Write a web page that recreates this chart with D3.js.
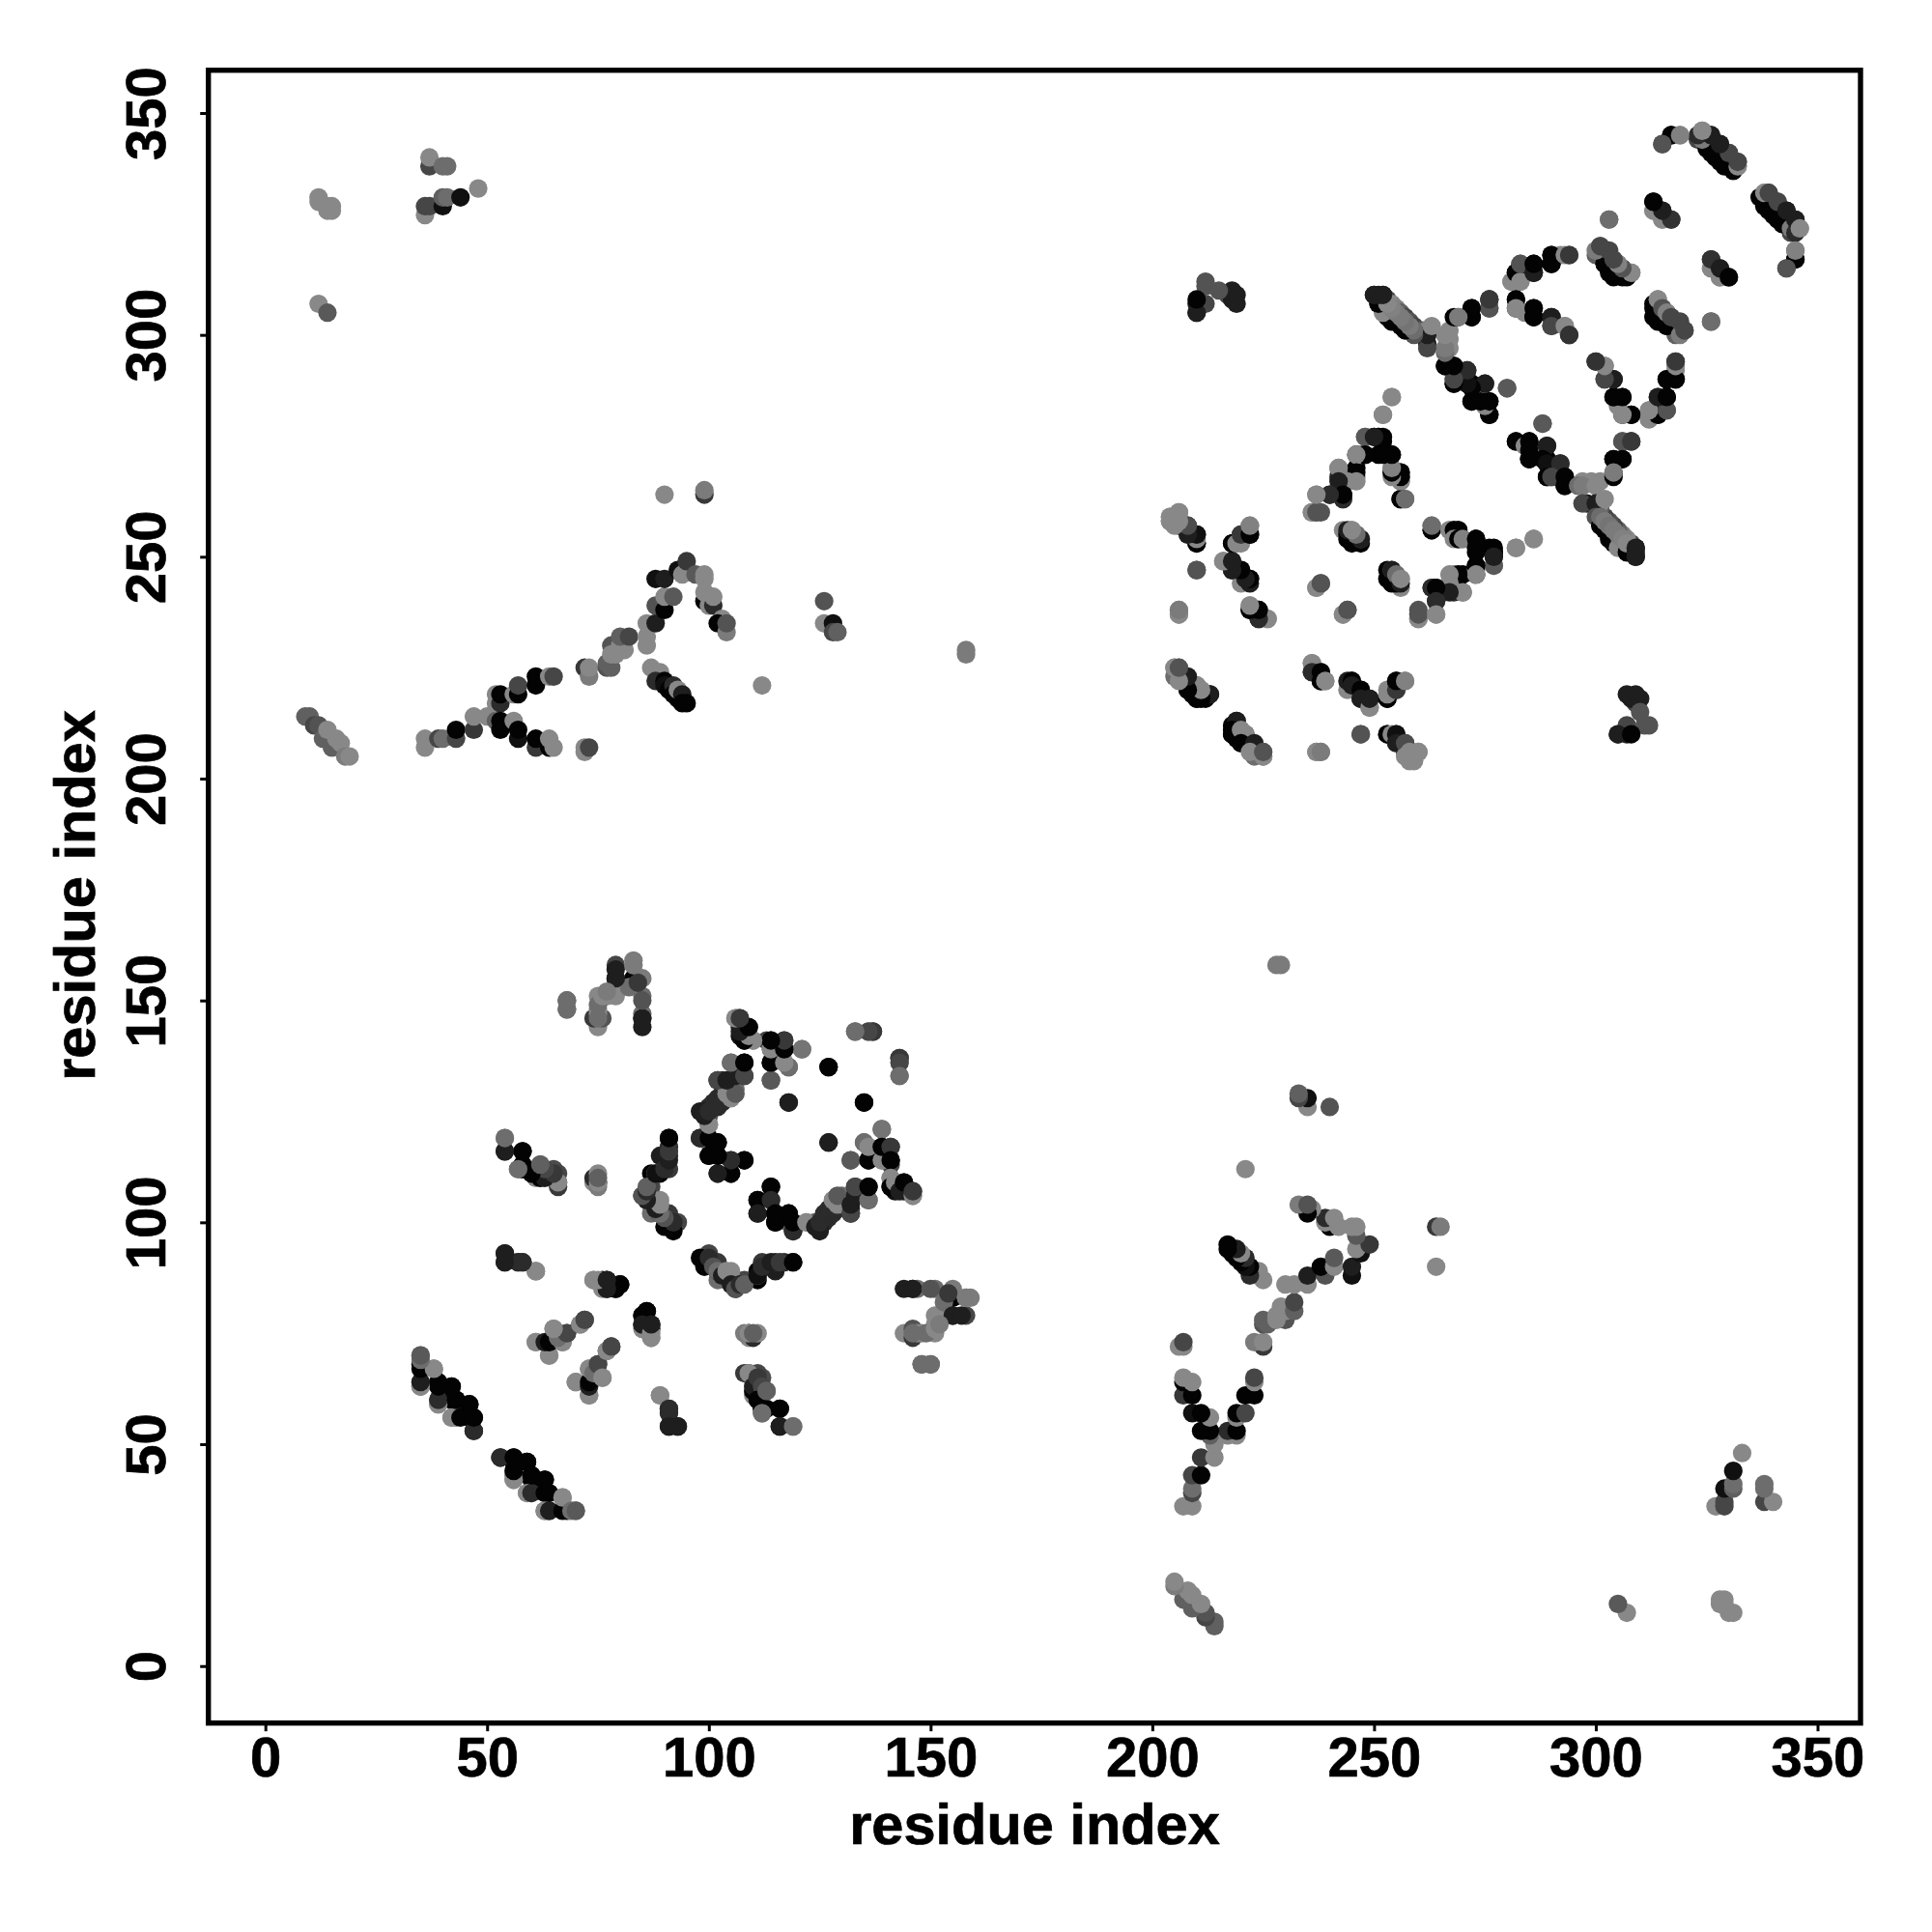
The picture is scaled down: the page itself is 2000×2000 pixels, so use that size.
<!DOCTYPE html>
<html><head><meta charset="utf-8">
<script src="https://cdn.jsdelivr.net/npm/d3@7"></script>
<style>html,body{margin:0;background:#fff}svg{display:block}text{font-family:"Liberation Sans",Arial,sans-serif;font-weight:bold;fill:#000;stroke:#000;stroke-width:.7px}</style>
</head><body><svg id="c" width="2000" height="2000"></svg>
<script>
// Each contact: [residue i, residue j, strength 0..1]; the map is symmetric, so each is drawn at (i,j) and (j,i).
const clusterNTermA=[[9,214,.3],[10,214,.3],[11,212,.5],[12,212,.4],[13,209,.3],[14,211,0],[15,207,.3],[16,209,0],[17,208,0],[18,205,.1],[19,205,0]];
const clusterFarCorner=[[12,331,0],[12,330,0],[14,329,0],[15,329,0],[14,328,0],[15,328,0],[12,307,0],[14,305,.35],[37,338,.5],[37,340,0],[40,338,.2],[41,338,.2],[36,327,0],[36,329,.5],[37,329,.5],[40,329,.9],[40,331,.3],[41,331,.2],[44,331,.9],[48,333,0]];
const clusterBranch=[[36,209,0],[36,207,0],[39,209,.5],[40,209,.2],[43,209,.5],[43,211,1],[47,211,.6],[47,214,0],[50,214,0],[52,213,.3],[52,219,0],[52,217,0],[53,217,.7],[53,219,1],[56,219,0],[57,219,1],[57,221,.5],[61,221,1],[61,223,1],[64,223,0],[65,223,.5],[53,213,1],[53,211,1],[56,213,0],[57,209,.9],[57,211,1],[61,207,.6],[61,209,1],[64,207,1],[64,209,0],[65,207,0],[72,206,0],[72,207,0],[73,207,.5],[72,225,.6],[73,223,.1],[73,225,0],[77,225,.4],[78,225,.3],[77,226,.3],[78,230,.4],[78,228,0],[79,228,0],[80,230,0],[81,229,0],[80,232,.3],[82,232,.5],[86,230,0],[86,232,0],[86,235,0],[88,235,.8],[88,239,.4],[90,238,1],[90,241,0],[92,241,.35],[88,245,.9],[90,245,.8],[93,247,.9],[94,246,0],[95,249,.6],[97,246,.35],[99,246,0],[99,245,0],[90,264,0],[99,264,.6],[99,265,.1],[99,240,1],[99,242,0],[100,239,0],[101,239,.7],[101,241,0],[103,236,0],[102,235,1],[104,233,.1],[104,235,.4],[126,240,.4],[126,235,0],[128,235,.9],[128,233,.5],[129,233,.3],[158,229,.1],[158,228,.1],[112,221,0]];
const clusterDescent=[[87,225,0],[88,224,0],[89,224,0],[88,222,.7],[90,222,1],[90,221,.9],[91,220,1],[92,221,.7],[92,219,1],[93,218,1],[93,220,0],[94,219,.8],[94,217,1],[95,217,1]];
const clusterNearDiagonal=[[35,70,.2],[35,68,1],[38,67,0],[35,63,.2],[35,64,.8],[39,59,0],[39,60,.6],[39,64,1],[42,63,1],[42,60,1],[43,60,1],[42,56,0],[43,56,.1],[46,59,1],[46,56,1],[47,56,1],[47,53,.8],[53,47,.7],[56,42,0],[56,44,1],[56,47,1],[59,46,1],[59,39,0],[60,39,.7],[60,43,1],[63,42,1],[63,39,1],[63,35,0],[64,35,.8],[67,35,1],[67,38,0],[69,35,.2],[70,35,.35]];
const clusterLoopLeft=[[54,93,.8],[54,91,.8],[57,91,.6],[58,91,.6],[61,89,.15],[54,119,0],[54,116,.7],[57,112,.2],[58,116,1],[58,113,1],[58,112,1],[62,113,.4],[61,110,0],[62,110,1],[65,112,.45],[66,111,.5],[66,109,.5],[74,109,0],[74,110,.7],[75,109,1],[75,111,0],[68,150,.5],[68,148,.4],[75,144,0],[74,146,.6],[76,146,.4],[75,148,0],[75,151,0],[77,151,0],[79,151,0],[79,155,1],[79,158,.5],[83,155,1],[83,159,.1],[83,158,0],[85,155,.1],[85,151,.2],[85,146,1],[85,147,.2],[61,73,0],[64,70,0],[64,73,1],[65,76,0],[66,75,.3],[67,73,0],[68,75,.5],[71,77,.35],[72,78,.45],[70,64,0],[73,61,0],[73,63,.8],[73,64,1],[73,67,0],[74,66,.2],[75,68,.5],[76,65,0],[77,71,0],[78,72,.5],[74,87,0],[76,85,0],[76,87,.8],[77,87,1],[77,85,.8],[79,85,.8],[78,86,0],[80,86,1],[85,79,1],[86,80,1],[85,77,.8],[87,74,0],[87,75,0],[87,77,.8],[89,61,0],[91,58,.7],[91,57,.7],[91,54,.8],[93,54,.8]];
const clusterBarrel=[[91,119,1],[89,115,.8],[91,117,.7],[91,115,.7],[87,111,1],[88,111,0],[89,111,1],[91,112,.6],[87,108,.5],[85,106,.7],[87,104,.9],[89,105,0],[87,102,.2],[89,102,1],[90,102,.3],[90,99,1],[91,101,.3],[93,100,.5],[92,98,1],[98,125,.8],[99,125,.8],[100,126,.7],[101,127,.7],[102,128,.7],[103,129,.7],[102,132,.8],[103,132,.7],[104,130,.3],[105,128,0],[105,131,.4],[106,130,.2],[106,132,.2],[105,136,.2],[108,136,1],[108,133,.8],[100,122,0],[100,124,.4],[98,119,.8],[100,118,.3],[102,118,1],[100,115,1],[102,115,1],[105,114,.7],[108,114,1],[102,111,.7],[105,111,1],[106,146,0],[107,146,.6],[107,144,.7],[107,142,.9],[108,141,.9],[108,144,0],[109,144,1],[110,141,0],[113,141,.5],[114,141,1],[114,139,0],[117,139,1],[117,141,.6],[121,139,.2],[114,136,1],[114,132,.4],[117,136,0],[118,135,.4],[127,135,1],[118,127,.8],[135,127,1],[127,118,.8],[133,143,.2],[136,143,0],[137,143,.6],[143,137,.6],[143,136,.5],[143,133,.2]];
const clusterBarrelLower=[[114,108,1],[111,105,1],[114,105,.7],[111,102,.8],[115,102,1],[115,100,1],[118,102,1],[119,98,.7],[119,100,1],[122,100,0],[124,99,.8],[125,99,.8],[125,100,.7],[126,102,.7],[127,103,.7],[128,105,0],[129,104,0],[129,106,.35],[132,102,.5],[132,104,.8],[133,106,.8],[133,108,.5],[136,105,.2],[136,108,1],[132,114,.35],[136,114,1],[135,118,.2],[136,117,0],[139,121,.15],[139,114,0],[139,117,1],[141,117,.6],[141,114,1],[141,110,0],[141,108,1],[142,109,0],[143,107,.8],[144,109,1],[146,106,0],[146,107,.6]];
const clusterSmallLoop=[[144,85,.8],[146,85,.8],[147,75,0],[150,85,.4],[149,75,.2],[152,79,0],[153,82,.2],[154,84,.6],[155,79,.8],[157,79,.8],[158,83,.1],[148,68,.2],[150,68,.2],[146,75,.2],[151,76,0],[152,77,.1],[102,91,.6],[100,92,.7],[101,90,.4],[102,89,.2],[103,88,.8],[104,89,0],[105,86,.8],[106,85,.4],[107,86,.7],[108,86,.3],[111,88,.9],[112,90,.7],[114,91,.8],[116,91,.6],[119,91,1],[108,75,.1],[109,75,0],[110,75,.3],[108,66,.6],[109,66,0],[110,63,.8],[111,65,.6],[112,63,.5],[111,60,1],[112,58,1],[113,62,.3],[116,58,1],[116,54,.8],[119,54,.2],[112,57,.2]];
const clusterCentre=[[204,259,0],[204,258,0],[206,260,0],[206,257,.8],[208,255,0],[208,257,.5],[210,253,1],[210,255,.85],[210,247,.4],[206,238,0],[206,237,0],[205,225,0],[206,225,.2],[205,223,.2],[207,223,1],[208,222,0],[208,220,1],[209,219,1],[210,218,1],[210,221,.4],[212,218,1],[213,219,.8],[216,249,0],[218,247,.8],[218,249,.8],[220,244,0],[220,247,1],[222,245,.8],[222,244,.8],[218,253,1],[220,253,0],[220,255,.6],[222,255,.8],[222,257,0],[222,238,1],[222,239,.1],[224,238,1],[224,236,.8],[226,236,0],[219,213,.8],[218,211,1],[218,210,1],[220,211,0],[221,210,0],[220,208,1],[223,208,.8],[222,206,0],[225,205,0],[225,206,.4],[237,206,0],[238,206,.1],[236,226,0],[236,224,.7],[238,224,1],[238,222,1],[239,222,0],[245,222,1],[245,221,.8],[247,220,1],[247,218,.8],[249,216,0],[249,218,.8],[253,218,1],[253,219,0],[255,220,.6],[255,222,1],[257,222,.05],[247,210,.4],[253,210,1],[254,210,0],[255,210,.9],[255,208,.8],[257,208,.45],[257,205,0],[258,204,0],[258,206,0],[259,204,0],[260,206,0]];
const clusterHelixPack=[[237,260,0],[236,260,.05],[238,260,.4],[240,264,.7],[237,264,0],[242,268,.7],[242,270,.2],[243,263,.6],[243,264,1],[243,266,1],[244,267,0],[246,268,0],[246,270,1],[246,273,1],[247,273,0],[248,273,1],[248,277,.2],[250,277,1],[251,277,1],[252,276,1],[251,273,1],[254,273,1],[254,270,0],[254,269,.8],[252,282,0],[254,286,0],[256,269,1],[256,268,1],[256,267,0],[256,263,1],[257,263,.2],[243,256,0],[244,255,1],[245,253,1],[245,256,0],[246,255,.1],[247,253,1],[247,254,.3],[254,244,1],[254,247,.8],[255,246,.2],[256,244,.8],[256,245,0],[238,244,.4],[237,243,0],[243,237,0],[244,238,.4],[260,236,0],[260,237,.4],[263,256,1],[263,257,.2],[267,256,0],[268,256,1],[269,256,1],[268,254,0],[269,254,1],[270,254,.05],[273,254,1],[273,252,1],[277,252,1],[277,251,1],[277,248,.35],[277,250,.8],[282,252,0],[286,254,0],[273,248,1],[273,246,0],[269,246,1],[267,246,0],[267,244,0],[270,242,0],[267,242,.8],[263,243,.7],[264,243,1],[264,240,.7],[264,237,0]];
const clusterHelixUpper=[[250,309,.8],[252,309,1],[251,307,.9],[253,308,.5],[254,307,0],[255,306,.05],[256,305,.3],[257,304,.5],[258,303,.4],[259,302,.5],[261,301,.3],[262,301,0],[262,298,.8],[267,301,0],[267,299,0],[267,297,0],[269,304,.6],[272,304,1],[272,306,.8],[276,308,.5],[276,306,.4],[210,305,.5],[210,307,.8],[212,307,.5],[212,311,.4],[217,309,.5],[219,309,.8],[219,307,.8],[308,218,.8],[310,218,.8],[310,215,.4],[305,210,.8],[308,210,1],[312,212,.4],[266,293,1],[268,293,1],[271,292,.8],[268,290,.6],[268,289,1],[271,289,1],[272,289,1],[275,289,.8],[272,285,1],[276,285,1],[276,282,1],[280,288,.4],[288,280,.35],[282,276,1],[284,275,0],[285,276,1],[285,274,1],[289,275,.8],[285,272,1],[288,272,1],[289,271,.9],[292,271,.7],[289,268,1],[290,268,.5],[293,268,1],[293,266,1],[296,266,.2],[297,266,.1],[300,266,0],[297,262,.5],[300,262,.8],[302,263,0]];
const clusterHelixTop=[[300,259,.4],[301,257,1],[301,259,.2],[302,256,1],[302,258,.1],[303,254,1],[303,257,.15],[304,253,1],[304,256,.1],[305,252,0],[305,255,.1],[306,254,.05],[307,251,1],[307,253,0],[309,250,.8],[309,251,.8],[309,252,.8],[306,276,.4],[308,276,.4],[304,272,1],[306,272,1],[304,268,1],[304,269,.1],[306,282,.8],[308,282,1],[305,284,0],[304,286,1],[306,286,1],[302,290,.4],[304,290,1],[300,294,.8],[302,293,0],[312,281,0],[312,283,0],[314,282,.8],[314,283,1],[314,286,.8],[316,286,1],[316,283,.3],[316,290,1],[318,290,1],[318,292,0],[318,294,.6],[276,308,.6],[281,312,0],[282,314,1],[283,312,0],[283,316,.4],[286,314,.8],[286,316,1],[290,316,1],[290,318,1],[293,318,0],[294,318,.6],[282,308,1],[282,306,0],[286,306,1],[286,304,1],[290,304,.8],[290,302,.5],[293,302,0],[294,300,.65],[300,318,.3],[301,320,.5],[302,316,1],[303,318,.35],[304,313,1],[305,316,.2],[306,315,.35],[307,313,1],[308,314,0],[303,326,.2],[313,306,1],[314,303,1],[314,308,0],[315,306,.4],[316,302,1],[316,305,.05],[317,304,.5],[319,300,.1],[319,303,.5],[320,301,.5],[326,303,.2],[313,328,0],[313,330,1],[315,326,0],[315,328,.8],[317,326,.7],[326,315,0],[326,317,.65],[328,313,0],[328,315,.8],[330,313,1],[315,343,.4],[317,345,1],[319,345,0],[324,346,0],[323,344,.5],[325,342,1],[325,345,.3],[326,345,.6],[327,340,1],[327,343,0],[328,343,.85],[329,338,1],[330,341,.5],[331,337,1],[332,338,0],[332,339,.4],[337,331,1],[338,332,0],[339,328,1],[339,332,.5],[341,326,1],[341,330,.5],[343,328,.8],[344,324,.1],[345,323,.7],[345,326,.8],[346,324,0],[345,317,1],[345,319,.05],[343,315,.4]];
const allClusters=[clusterNTermA,clusterFarCorner,clusterBranch,clusterDescent,clusterNearDiagonal,clusterLoopLeft,clusterBarrel,clusterBarrelLower,clusterSmallLoop,clusterCentre,clusterHelixPack,clusterHelixUpper,clusterHelixTop];
const tickValues=[0,50,100,150,200,250,300,350];
const axisTitle="residue index";

const svg=d3.select("#c");
const x=d3.scaleLinear().domain([0,350]).range([274.7,1881.5]);
const y=d3.scaleLinear().domain([0,350]).range([1724.7,117]);
const shade=d3.scaleLinear().domain([0,1]).range(["#888888","#030303"]);
const L=215.7,R=1926,T=72.7,B=1783.7;

const pts=allClusters.flat().flatMap(([i,j,s])=>[{i,j,s},{i:j,j:i,s}]);
svg.append("g").selectAll("circle").data(pts).join("circle")
  .attr("cx",d=>x(d.i)).attr("cy",d=>y(d.j)).attr("r",9.6).attr("fill",d=>shade(d.s));

const xa=svg.append("g").attr("transform",`translate(0,${B})`)
  .call(d3.axisBottom(x).tickValues(tickValues).tickSize(8.5).tickPadding(0));
xa.select(".domain").remove();
xa.selectAll("line").attr("stroke","#000").attr("stroke-width",3);
xa.selectAll("text").attr("font-size",58).attr("dy",null)
  .attr("y",1839-B).attr("text-anchor","middle");

const ya=svg.append("g").attr("transform",`translate(${L},0)`)
  .call(d3.axisLeft(y).tickValues(tickValues).tickSize(8.5).tickPadding(0));
ya.select(".domain").remove();
ya.selectAll("line").attr("stroke","#000").attr("stroke-width",3);
ya.selectAll("text").attr("font-size",58).attr("dy",null).attr("x",null).attr("y",null)
  .attr("text-anchor","middle").attr("transform",`translate(${170.7-L},0) rotate(-90)`);

svg.append("rect").attr("x",L).attr("y",T).attr("width",R-L).attr("height",B-T)
  .attr("fill","none").attr("stroke","#000").attr("stroke-width",5.4);

svg.append("text").attr("x",1071).attr("y",1909).attr("text-anchor","middle").attr("font-size",59.5).text(axisTitle);
svg.append("text").attr("transform","translate(98,927) rotate(-90)").attr("text-anchor","middle").attr("font-size",59.5).text(axisTitle);
</script></body></html>
